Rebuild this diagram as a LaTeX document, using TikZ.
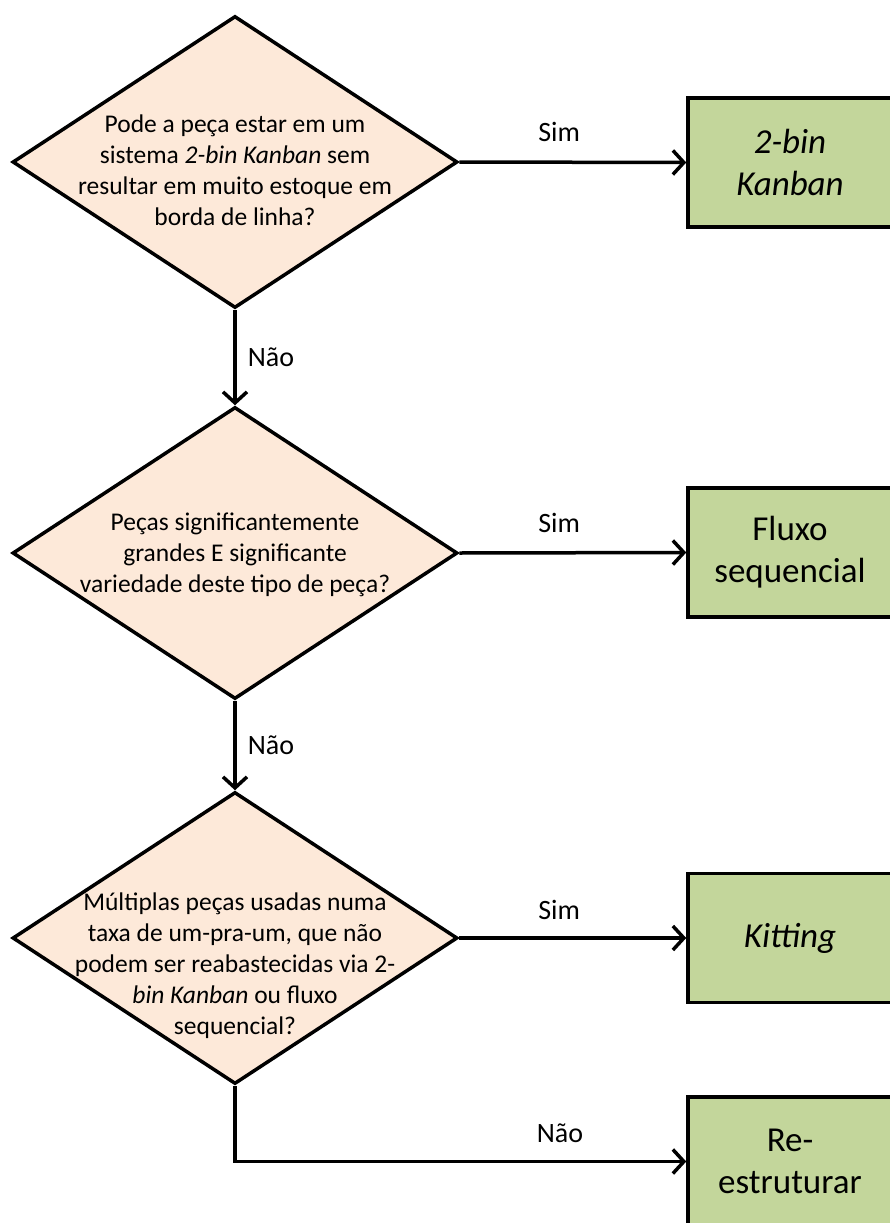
\documentclass[tikz,border=0pt]{standalone}
\usepackage{fontspec}
\setmainfont{Carlito}
\usetikzlibrary{shapes.geometric,arrows.meta}
\definecolor{qfill}{HTML}{FDE9D9}
\definecolor{afill}{HTML}{C3D69B}
\begin{document}
\begin{tikzpicture}[x=1pt,y=-1pt,
  question/.style={diamond, draw=black, line width=3.5pt, fill=qfill,
    minimum width=445pt, minimum height=292pt, inner sep=0pt},
  qtext/.style={align=center, font=\fontsize{25.5}{31}\selectfont},
  action/.style={rectangle, draw=black, line width=3.5pt, fill=afill,
    minimum width=204pt, minimum height=129pt, align=center,
    font=\fontsize{35}{42}\selectfont},
  flow/.style={line width=3.5pt, -{Straight Barb[length=11pt,width=24pt,line width=3.5pt]}},
  lbl/.style={font=\fontsize{28}{32}\selectfont}
]
\useasboundingbox (0,0) rectangle (890,1223);
\clip (0,0) rectangle (890,1223);

% decisions
\node[question] (q1) at (235,162) {};
\node[question] (q2) at (235,553) {};
\node[question] (q3) at (235,938) {};

\node[qtext] (t1) at ([yshift=-8pt]q1.center) {Pode a peça estar em um\\sistema \textit{2-bin Kanban} sem\\resultar em muito estoque em\\borda de linha?};
\node[qtext] (t2) at ([yshift=-2pt]q2.center) {Peças significantemente\\grandes E significante\\variedade deste tipo de peça?};
\node[qtext] (t3) at ([yshift=-28pt]q3.center) {Múltiplas peças usadas numa\\taxa de um-pra-um, que não\\podem ser reabastecidas via 2-\\\textit{bin Kanban} ou fluxo\\sequencial?};

% outcomes
\node[action] (a1) at (790,162.5) {\textit{2-bin}\\\textit{Kanban}};
\node[action] (a2) at (790,552.5) {Fluxo\\sequencial};
\node[action] (a3) at (790,938) {\textit{Kitting}};
\node[action] (a4) at (790,1161.5) {Re-\\estruturar};

% connectors
\draw[flow] (q1.east) -- node[lbl, pos=0.44, yshift=30pt] (s1) {Sim} (a1.west);
\draw[flow] (q2.east) -- node[lbl, pos=0.44, yshift=30pt] (s2) {Sim} (a2.west);
\draw[flow] (q3.east) -- node[lbl, pos=0.44, yshift=28pt] (s3) {Sim} (a3.west);
\draw[flow] (q1.south) -- node[lbl, midway, xshift=36pt] (n1) {Não} (q2.north);
\draw[flow] (q2.south) -- node[lbl, midway, xshift=36pt] (n2) {Não} (q3.north);
\draw[flow] (q3.south) |- node[lbl, pos=0.86, yshift=28pt] (n3) {Não} (a4.west);
\end{tikzpicture}
\end{document}
